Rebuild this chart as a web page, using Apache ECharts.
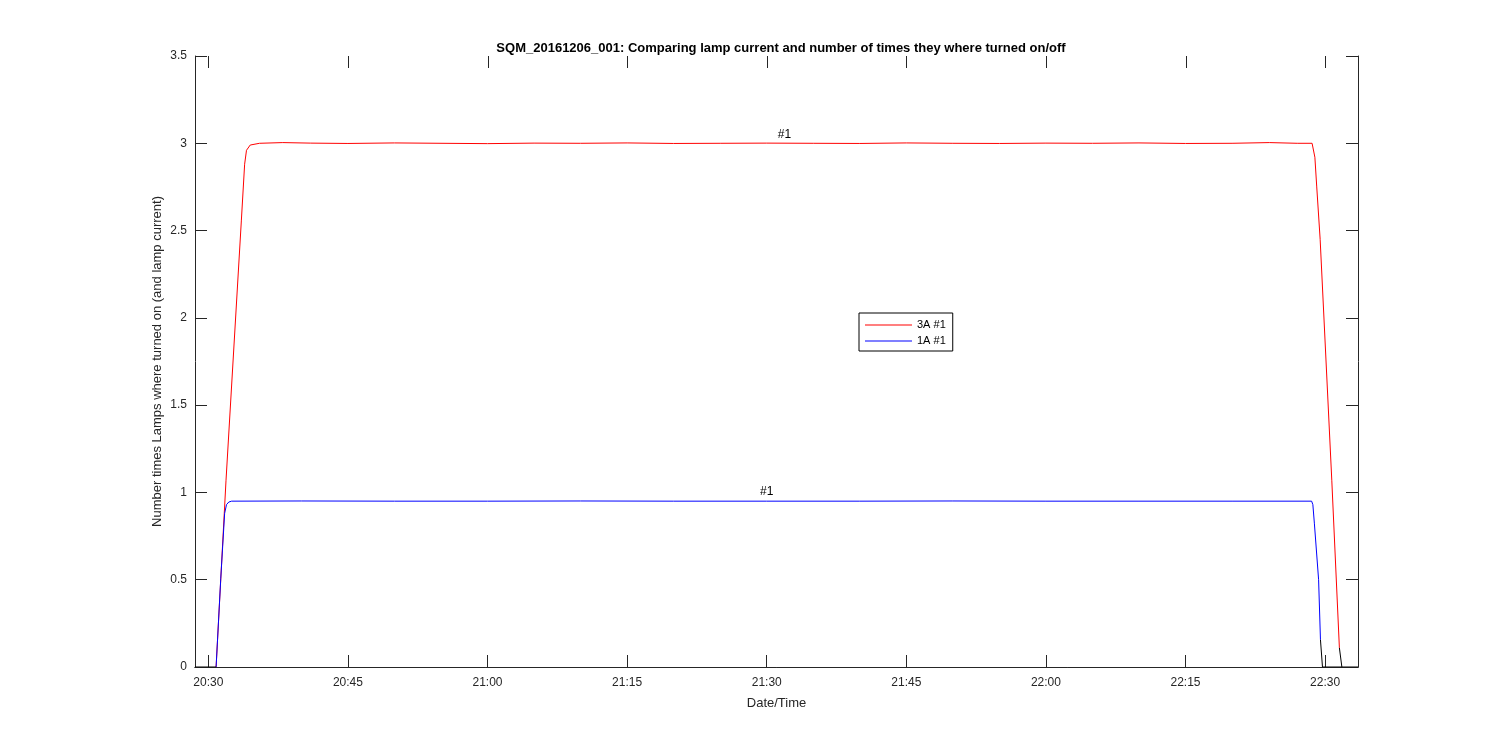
<!DOCTYPE html>
<html>
<head>
<meta charset="utf-8">
<script src="https://cdn.jsdelivr.net/npm/echarts@6/dist/echarts.min.js"></script>
<style>html,body{margin:0;padding:0;background:#fff}#c{width:1500px;height:750px}</style>
</head>
<body>
<div id="c"></div>
<script>
// ---- data ----
const titleText = 'SQM_20161206_001: Comparing lamp current and number of times they where turned on/off';
const xTickLabels = ['20:30','20:45','21:00','21:15','21:30','21:45','22:00','22:15','22:30'];
const xMinTime = '20:28:34';
const xMaxTime = '22:33:32';

const redTimes = ['20:30:50','20:31:54','20:33:33','20:33:54','20:34:06','20:34:30','20:35:30','20:38:00','20:41:00','20:45:00','20:50:00','20:55:00','21:00:00','21:05:00','21:10:00','21:15:00','21:20:00','21:25:00','21:30:00','21:35:00','21:40:00','21:45:00','21:50:00','21:55:00','22:00:00','22:05:00','22:10:00','22:15:00','22:20:00','22:24:00','22:27:00','22:28:36','22:28:54','22:29:06','22:29:28','22:30:43','22:31:32'];
const redValues = [0,1.07,2.56,2.88,2.96,2.99,3.0,3.004,3.001,2.999,3.002,3.0,2.998,3.001,3.0,3.002,2.999,3.0,3.001,3.0,2.999,3.002,3.0,2.999,3.001,3.0,3.002,2.999,3.0,3.004,3.0,3.0,2.92,2.75,2.45,1.07,0.11];

const blueTimes = ['20:30:50','20:31:20','20:31:45','20:31:57','20:32:12','20:32:30','20:40:00','20:50:00','21:00:00','21:10:00','21:20:00','21:30:00','21:40:00','21:50:00','22:00:00','22:10:00','22:20:00','22:28:33','22:28:41','22:28:51','22:29:18','22:29:30'];
const blueValues = [0,0.505,0.88,0.93,0.945,0.95,0.951,0.95,0.95,0.951,0.95,0.95,0.95,0.951,0.95,0.95,0.95,0.95,0.93,0.82,0.5,0.156];

const blackTimes = ['20:28:34','20:30:50',null,'22:29:30','22:29:43','22:33:32',null,'22:31:32','22:31:48'];
const blackValues = [0,0,null,0.156,0,0,null,0.11,0];

const redLabel = {time:'21:31:54', value:3.0, text:'#1'};
const blueLabel = {time:'21:30:00', value:0.95, text:'#1'};

// ---- helpers ----
function t(s){ const p=s.split(':').map(Number); return Date.UTC(2016,11,6,p[0],p[1],p[2]||0); }
function pts(times, vals){ return times.map((s,i)=> s===null ? [null,null] : [t(s), vals[i]]); }
function fmt(v){ const d=new Date(v); const h=String(d.getUTCHours()).padStart(2,'0'); const m=String(d.getUTCMinutes()).padStart(2,'0'); return h+':'+m; }

const tickVals = xTickLabels.map(s=>t(s+':00'));
const yMax = 3.5;
const axisCol = '#262626';
const font = 'Liberation Sans, Arial, Helvetica, sans-serif';
const lineIcon = 'path://M0,0 L100,0 L100,2 L0,2 Z';

const chart = echarts.init(document.getElementById('c'));
chart.setOption({
  animation:false,
  backgroundColor:'#fff',
  title:{text:titleText, left:776, top:37, textAlign:'center',
    textStyle:{fontFamily:font, fontSize:13, fontWeight:'bold', color:'#000'}},
  grid:{left:195, right:142, top:56, bottom:83, containLabel:false},
  legend:{
    left:859, top:313, orient:'vertical',
    data:[{name:'3A #1', icon:lineIcon},{name:'1A #1', icon:lineIcon}],
    itemWidth:47, itemHeight:1, itemGap:2,
    padding:[5,7,3,6],
    borderColor:'#000', borderWidth:1, backgroundColor:'#fff',
    textStyle:{fontFamily:font, fontSize:11, color:'#000', lineHeight:14}
  },
  xAxis:[{
    type:'value', min:t(xMinTime), max:t(xMaxTime),
    name:'Date/Time', nameLocation:'middle', nameGap:30, nameMoveOverlap:false,
    nameTextStyle:{fontFamily:font, fontSize:13, color:axisCol},
    axisLine:{show:true, lineStyle:{color:axisCol, width:1}},
    axisTick:{show:true, inside:true, length:12, customValues:tickVals, lineStyle:{color:axisCol}},
    axisLabel:{show:true, customValues:tickVals, formatter:fmt, margin:10,
      fontFamily:font, fontSize:12, color:axisCol},
    splitLine:{show:false}
  },{
    type:'value', position:'top', min:t(xMinTime), max:t(xMaxTime),
    axisLine:{show:true, lineStyle:{color:axisCol, width:1}},
    axisTick:{show:false}, axisLabel:{show:false}, splitLine:{show:false}
  }],
  yAxis:[{
    type:'value', min:0, max:yMax, interval:0.5,
    name:'Number times Lamps where turned on (and lamp current)',
    nameLocation:'middle', nameGap:31, nameRotate:90, nameMoveOverlap:false,
    nameTextStyle:{fontFamily:font, fontSize:13, color:axisCol},
    axisLine:{show:true, lineStyle:{color:axisCol, width:1}},
    axisTick:{show:true, inside:true, length:12, lineStyle:{color:axisCol}},
    axisLabel:{margin:8, fontFamily:font, fontSize:12, color:axisCol},
    splitLine:{show:false}
  },{
    type:'value', position:'right', min:0, max:yMax, interval:0.5,
    axisLine:{show:true, lineStyle:{color:axisCol, width:1}},
    axisTick:{show:true, inside:true, length:12, lineStyle:{color:axisCol}},
    axisLabel:{show:false}, splitLine:{show:false}
  }],
  series:[{
    name:'3A #1', type:'line', symbol:'none', smooth:false,
    data:pts(redTimes, redValues),
    lineStyle:{color:'#ff0000', width:1}, itemStyle:{color:'#ff0000'},
    markPoint:{symbol:'circle', symbolSize:0, silent:true,
      label:{show:true, position:'top', distance:3, formatter:redLabel.text,
        fontFamily:font, fontSize:12, color:'#000'},
      data:[{coord:[t(redLabel.time), redLabel.value]}]}
  },{
    name:'1A #1', type:'line', symbol:'none', smooth:false,
    data:pts(blueTimes, blueValues),
    lineStyle:{color:'#0000ff', width:1}, itemStyle:{color:'#0000ff'},
    markPoint:{symbol:'circle', symbolSize:0, silent:true,
      label:{show:true, position:'top', distance:3, formatter:blueLabel.text,
        fontFamily:font, fontSize:12, color:'#000'},
      data:[{coord:[t(blueLabel.time), blueLabel.value]}]}
  },{
    name:'off', type:'line', symbol:'none', connectNulls:false,
    data:pts(blackTimes, blackValues),
    lineStyle:{color:'#000000', width:1}, itemStyle:{color:'#000'}
  },{
    name:'topTicks', type:'custom', silent:true, clip:false,
    data:tickVals.map(v=>[v, yMax]),
    renderItem:function(params, api){
      const p = api.coord([api.value(0), api.value(1)]);
      const x = Math.round(p[0]) + 0.5;
      return {type:'line', shape:{x1:x, y1:p[1], x2:x, y2:p[1]+12},
        style:{stroke:axisCol, lineWidth:1}};
    }
  }]
});
</script>
</body>
</html>
